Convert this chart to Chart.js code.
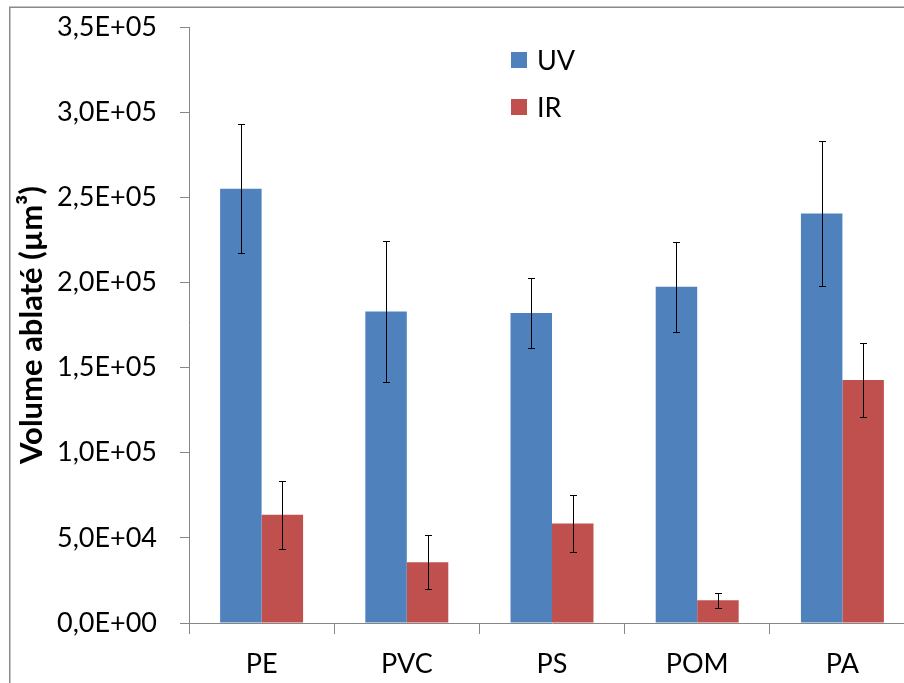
<!DOCTYPE html>
<html><head><meta charset="utf-8">
<script src="https://cdn.jsdelivr.net/npm/chart.js@4/dist/chart.umd.min.js"></script>
<style>html,body{margin:0;padding:0;overflow:hidden;background:#fff}#wrap{position:absolute;left:0;top:0;width:920px;height:683px}</style>
</head><body><div id="wrap"><canvas id="c" width="920" height="683" style="width:920px;height:683px"></canvas></div>
<script>
const categories = ['PE', 'PVC', 'PS', 'POM', 'PA'];
const seriesNames = ['UV', 'IR'];
const uvValues = [255000, 183000, 182000, 197500, 240500];
const uvErrors = [38000, 41500, 20700, 26500, 42500];
const irValues = [63500, 35700, 58500, 13300, 142700];
const irErrors = [20000, 15700, 16600, 4600, 21800];
const yTicks = [0, 50000, 100000, 150000, 200000, 250000, 300000, 350000];
const yTitle = 'Volume ablaté (µm³)';

const FONT = 'Lato, "Open Sans", sans-serif';
const AXIS = '#868686';

function fmtSci(v) {
  const parts = Number(v).toExponential(1).split('e');
  const mant = parts[0].replace('.', ',');
  const ex = parseInt(parts[1], 10);
  const sign = ex < 0 ? '-' : '+';
  const ad = String(Math.abs(ex)).padStart(2, '0');
  return mant + 'E' + sign + ad;
}

const framePlugin = {
  id: 'frame',
  beforeDraw(chart) {
    const ctx = chart.ctx;
    ctx.save();
    ctx.fillStyle = '#fff';
    ctx.fillRect(0, 0, chart.width, chart.height);
    ctx.strokeStyle = '#8a8a8a';
    ctx.lineWidth = 1.5;
    ctx.beginPath();
    ctx.moveTo(9.75, chart.height);
    ctx.lineTo(9.75, 7.25);
    ctx.lineTo(chart.width, 7.25);
    ctx.stroke();
    ctx.restore();
  }
};

const errorBarPlugin = {
  id: 'errorBars',
  afterDatasetsDraw(chart) {
    const ctx = chart.ctx;
    const ys = chart.scales.y;
    ctx.save();
    ctx.strokeStyle = '#000';
    ctx.lineWidth = 1;
    chart.data.datasets.forEach((ds, i) => {
      const meta = chart.getDatasetMeta(i);
      meta.data.forEach((bar, j) => {
        const v = ds.data[j], e = ds.errors[j];
        const x = Math.round(bar.x) + 0.5;
        const yt = Math.round(ys.getPixelForValue(v + e)) + 0.5;
        const yb = Math.round(ys.getPixelForValue(v - e)) + 0.5;
        ctx.beginPath();
        ctx.moveTo(x, yt); ctx.lineTo(x, yb);
        ctx.moveTo(x - 3.5, yt); ctx.lineTo(x + 3.5, yt);
        ctx.moveTo(x - 3.5, yb); ctx.lineTo(x + 3.5, yb);
        ctx.stroke();
      });
    });
    ctx.restore();
  }
};

const legendPlugin = {
  id: 'customLegend',
  afterDraw(chart) {
    const ctx = chart.ctx;
    ctx.save();
    ctx.font = '27px ' + FONT;
    ctx.textBaseline = 'middle';
    ctx.textAlign = 'left';
    const rows = [60, 107];
    chart.data.datasets.forEach((ds, i) => {
      const cy = rows[i];
      ctx.fillStyle = ds.backgroundColor;
      ctx.fillRect(511, cy - 8, 16, 16);
      ctx.fillStyle = '#000';
      ctx.fillText(ds.label, 537, cy + 1);
    });
    ctx.restore();
  }
};

new Chart(document.getElementById('c'), {
  type: 'bar',
  data: {
    labels: categories,
    datasets: [
      { label: seriesNames[0], data: uvValues, errors: uvErrors, backgroundColor: '#4F81BD', borderWidth: 0 },
      { label: seriesNames[1], data: irValues, errors: irErrors, backgroundColor: '#C0504D', borderWidth: 0 }
    ]
  },
  options: {
    responsive: false,
    animation: false,
    devicePixelRatio: 1,
    layout: { padding: { top: 27, right: 5, left: 0, bottom: 0 } },
    datasets: { bar: { barPercentage: 1, categoryPercentage: 2 / 3.5 } },
    plugins: { legend: { display: false }, tooltip: { enabled: false } },
    scales: {
      x: {
        grid: { offset: true, drawOnChartArea: false, drawTicks: true, tickLength: 11, color: AXIS, lineWidth: 1 },
        border: { display: true, color: AXIS, width: 1 },
        ticks: { color: '#000', font: { family: FONT, size: 27 }, padding: 14, maxRotation: 0 },
        afterFit(s) { s.height = 60; s.paddingLeft = 0; s.paddingRight = 0; }
      },
      y: {
        min: 0, max: 350000,
        afterBuildTicks(s) { s.ticks = yTicks.map(v => ({ value: v })); },
        grid: { drawOnChartArea: false, drawTicks: true, tickLength: 9, color: AXIS, lineWidth: 1 },
        border: { display: true, color: AXIS, width: 1 },
        ticks: { color: '#000', font: { family: FONT, size: 27 }, padding: 23, callback: v => fmtSci(v) },
        title: { display: true, text: yTitle, color: '#000', font: { family: FONT, size: 31, weight: 'bold' }, padding: { top: 13, bottom: 0 } },
        afterFit(s) { s.width = 189; s.paddingTop = 0; s.paddingBottom = 0; }
      }
    }
  },
  plugins: [framePlugin, errorBarPlugin, legendPlugin]
});
</script>
</body></html>
